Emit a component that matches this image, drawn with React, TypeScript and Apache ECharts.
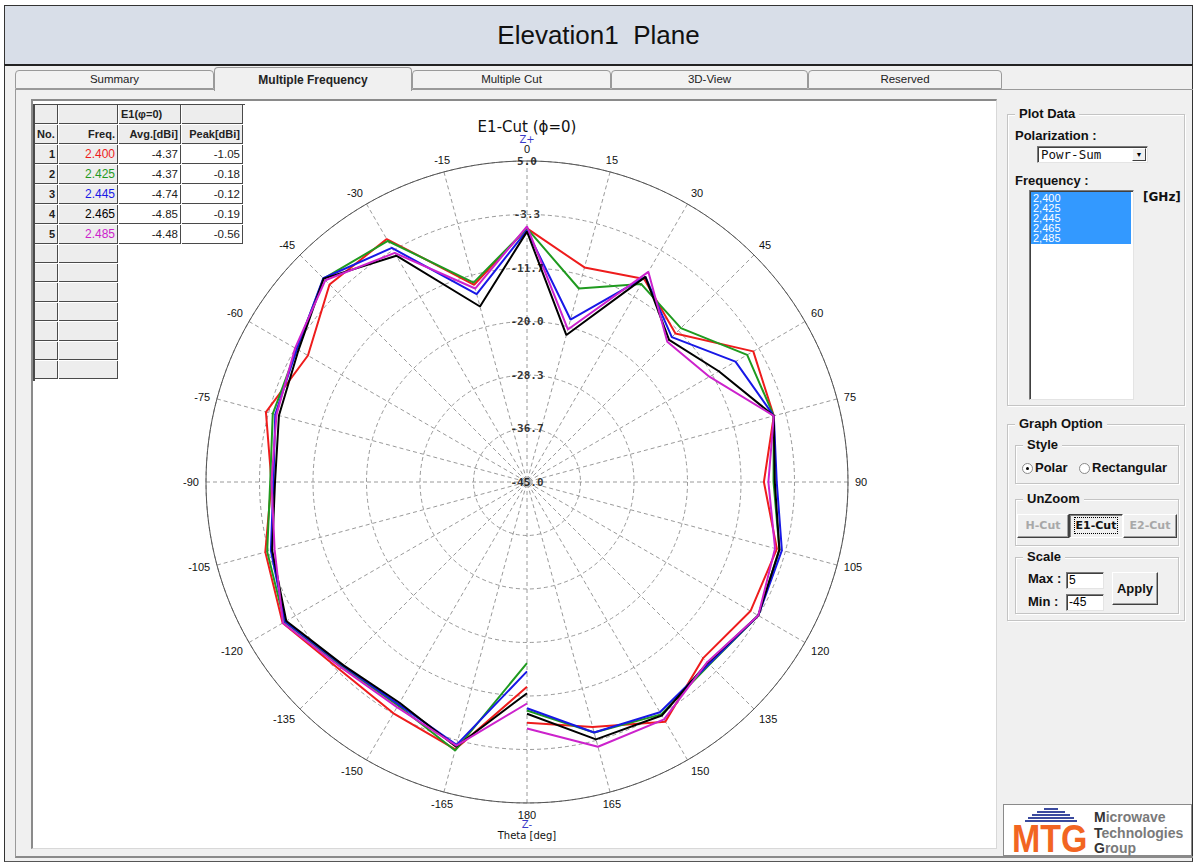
import React, { useEffect, useRef } from 'react';
import * as echarts from 'echarts';

// ---- table / list data ----
const frequencies = ['2.400', '2.425', '2.445', '2.465', '2.485'];
const listFrequencies = ['2,400', '2,425', '2,445', '2,465', '2,485'];
const avgGain = ['-4.37', '-4.37', '-4.74', '-4.85', '-4.48'];
const peakGain = ['-1.05', '-0.18', '-0.12', '-0.19', '-0.56'];
const seriesColors = ['#ee1c1c', '#1f9a1f', '#1818e6', '#000000', '#cc22cc'];
const tabNames = ['Summary', 'Multiple Frequency', 'Multiple Cut', '3D-View', 'Reserved'];

// ---- E1 cut (phi = 0) gain in dBi versus theta ----
const thetaDeg = [
  -180, -165, -150, -135, -120, -105, -90, -75, -60, -45, -30, -15, 0,
  15, 30, 45, 60, 75, 90, 105, 120, 135, 150, 165, 180,
];
const gain2400 = [-13.1, -1.9, -3.4, -3.7, -1.05, -2.8, -5.2, -2.9, -5.6, -1.5, -1.3, -13.2, -5.5, -10.4, -8.5, -12.3, -4.3, -5.2, -8.1, -4.7, -4.8, -6.2, -1.9, -5.5, -7.5];
const gain2425 = [-16.8, -1.7, -4.8, -4.3, -1.4, -3.1, -5.0, -4.0, -3.6, -0.18, -1.65, -12.85, -5.5, -13.8, -9.4, -11.1, -5.4, -5.2, -6.6, -4.3, -3.4, -4.8, -3.2, -4.6, -9.4];
const gain2445 = [-15.5, -2.6, -5.0, -4.5, -1.5, -3.7, -5.5, -4.4, -3.6, -0.12, -2.9, -14.7, -5.8, -18.8, -8.1, -13.1, -7.5, -5.2, -6.1, -3.9, -3.4, -4.9, -3.6, -4.6, -9.75];
const gain2465 = [-12.1, -2.3, -5.3, -4.6, -1.7, -3.9, -5.75, -5.0, -3.9, -0.19, -4.3, -16.7, -6.0, -21.3, -8.1, -13.7, -10.5, -5.2, -6.4, -4.3, -3.4, -5.2, -3.0, -3.5, -8.9];
const gain2485 = [-10.5, -2.5, -4.5, -4.1, -1.1, -4.3, -5.2, -4.6, -3.3, -0.56, -3.8, -13.8, -5.2, -20.4, -7.2, -14.1, -12.2, -5.2, -7.4, -5.0, -3.4, -5.3, -2.3, -2.3, -6.6];
const gainSeries = [gain2400, gain2425, gain2445, gain2465, gain2485];

// radial scale (dBi), centre = min, rim = max
const radiusMin = -45;
const radiusMax = 5;
const ringCount = 6;
const radialTickLabels = ['-45.0', '-36.7', '-28.3', '-20.0', '-11.7', '-3.3', '5.0'];

const ringStep = (radiusMax - radiusMin) / ringCount;
const dashed = { color: '#9a9a9a', width: 1, type: [4, 3] as number[] };

function buildOption() {
  return {
    animation: false,
    graphic: [
      {
        type: 'text',
        x: 494,
        y: 26,
        style: {
          text: 'E1-Cut (\u03d5=0)',
          align: 'center',
          verticalAlign: 'middle',
          fontFamily: 'DejaVu Sans',
          fontSize: 15,
          fill: '#111',
        },
      },
    ],
    polar: { center: [494, 381], radius: [0, 321] },
    angleAxis: {
      type: 'value',
      min: -180,
      max: 180,
      interval: 15,
      startAngle: 270,
      clockwise: true,
      axisLine: { show: true, lineStyle: { color: '#555', width: 1 } },
      axisTick: { show: false },
      splitLine: { show: true, lineStyle: dashed },
      axisLabel: {
        margin: 7,
        fontFamily: 'Liberation Sans',
        fontSize: 11,
        color: '#111',
        lineHeight: 10,
        formatter: (v: number) => {
          if (v === 0) return '{z|Z+}\n{a|0}';
          if (v === -180) return '{a|180}\n{z|Z-}\n{t|Theta [deg]}';
          if (v === 180) return '';
          return `{a|${v}}`;
        },
        rich: {
          a: { color: '#111', fontSize: 11, lineHeight: 10, fontFamily: 'Liberation Sans' },
          z: { color: '#3a3ac8', fontSize: 10, lineHeight: 9, fontFamily: 'DejaVu Sans' },
          t: { color: '#111', fontSize: 10, lineHeight: 12, fontFamily: 'DejaVu Sans' },
        },
      },
    },
    radiusAxis: {
      type: 'value',
      min: 0,
      max: radiusMax - radiusMin,
      interval: ringStep,
      axisLine: { show: false },
      axisTick: { show: false },
      axisLabel: { show: false },
      splitLine: { show: true, lineStyle: dashed },
    },
    series: [
      ...gainSeries.map((vals, k) => ({
        type: 'line',
        name: frequencies[k],
        coordinateSystem: 'polar',
        data: thetaDeg.map((t, i) => [vals[i] - radiusMin, t]),
        symbol: 'none',
        z: 3,
        lineStyle: { color: seriesColors[k], width: 2 },
        itemStyle: { color: seriesColors[k] },
      })),
      {
        type: 'scatter',
        coordinateSystem: 'polar',
        silent: true,
        z: 5,
        symbolSize: 1,
        itemStyle: { color: 'rgba(0,0,0,0)' },
        data: radialTickLabels.map((_, i) => [i * ringStep, 0]),
        label: {
          show: true,
          position: 'inside',
          formatter: (p: any) => radialTickLabels[p.dataIndex],
          fontFamily: 'DejaVu Sans Mono',
          fontWeight: 'bold',
          fontSize: 11,
          lineHeight: 11,
          color: '#000',
        },
      },
    ],
  };
}

// ---- table layout ----
const colX = [35, 59, 119, 182, 244];
const rowY = [105, 125, 145, 165, 185, 205, 225, 245, 264, 283, 303, 322, 342, 361, 380];
const GRAY = '#ededed';
const PANEL = '#f0f0f0';

function Cell(props: { c: number; r: number; text?: string; bg: string; align?: 'left' | 'right'; bold?: boolean; color?: string; size?: number }) {
  const { c, r, text, bg, align = 'right', bold, color = '#222', size = 11 } = props;
  return (
    <div
      style={{
        position: 'absolute',
        left: colX[c],
        top: rowY[r],
        width: colX[c + 1] - colX[c] - 1,
        height: rowY[r + 1] - rowY[r] - 1,
        background: bg,
        borderRight: '1px solid #4a4a4a',
        borderBottom: '1px solid #4a4a4a',
        fontFamily: 'Liberation Sans, Arial, sans-serif',
        fontSize: size,
        fontWeight: bold ? 'bold' : 'normal',
        color,
        textAlign: align,
        lineHeight: `${rowY[r + 1] - rowY[r] - 1}px`,
        padding: '0 2px',
        boxSizing: 'border-box',
        whiteSpace: 'nowrap',
        overflow: 'hidden',
      }}
    >
      {text}
    </div>
  );
}

function GainTable() {
  const cells: React.ReactNode[] = [];
  // first header row
  cells.push(<Cell key="h0" c={0} r={0} bg={GRAY} />);
  cells.push(<Cell key="h1" c={1} r={0} bg={GRAY} />);
  cells.push(<Cell key="h2" c={2} r={0} bg={GRAY} text={'E1(\u03c6=0)'} align="left" bold />);
  cells.push(<Cell key="h3" c={3} r={0} bg={GRAY} />);
  // second header row
  cells.push(<Cell key="n0" c={0} r={1} bg={GRAY} text="No." align="left" bold />);
  cells.push(<Cell key="n1" c={1} r={1} bg={GRAY} text="Freq." bold />);
  cells.push(<Cell key="n2" c={2} r={1} bg={GRAY} text="Avg.[dBi]" bold />);
  cells.push(<Cell key="n3" c={3} r={1} bg={GRAY} text="Peak[dBi]" bold />);
  frequencies.forEach((f, i) => {
    const r = i + 2;
    cells.push(<Cell key={`a${i}`} c={0} r={r} bg={GRAY} text={String(i + 1)} bold />);
    cells.push(<Cell key={`b${i}`} c={1} r={r} bg={GRAY} text={f} color={seriesColors[i]} size={12} />);
    cells.push(<Cell key={`c${i}`} c={2} r={r} bg="#fff" text={avgGain[i]} size={11.5} />);
    cells.push(<Cell key={`d${i}`} c={3} r={r} bg="#fff" text={peakGain[i]} size={11.5} />);
  });
  for (let r = 7; r < rowY.length - 1; r++) {
    cells.push(<Cell key={`e${r}`} c={0} r={r} bg={GRAY} />);
    cells.push(<Cell key={`f${r}`} c={1} r={r} bg={GRAY} />);
  }
  return (
    <>
      <div style={{ position: 'absolute', left: 33, top: 104, width: 2, height: 277, background: '#4a4a4a' }} />
      <div style={{ position: 'absolute', left: 33, top: 104, width: 212, height: 1, background: '#4a4a4a' }} />
      {cells}
    </>
  );
}

const boldUi: React.CSSProperties = {
  position: 'absolute',
  fontFamily: 'Liberation Sans, Arial, sans-serif',
  fontWeight: 'bold',
  fontSize: 13,
  color: '#111',
  whiteSpace: 'nowrap',
  lineHeight: '16px',
};

function GroupBox(props: { x: number; y: number; w: number; h: number; label: string }) {
  const { x, y, w, h, label } = props;
  return (
    <div
      style={{
        position: 'absolute',
        left: x,
        top: y,
        width: w,
        height: h,
        border: '1px solid #c4c4c4',
        boxShadow: 'inset 1px 1px 0 #fff, 1px 1px 0 #fff',
        boxSizing: 'border-box',
      }}
    >
      <span style={{ ...boldUi, left: 7, top: -9, padding: '0 4px', background: PANEL }}>{label}</span>
    </div>
  );
}

const sunken: React.CSSProperties = {
  position: 'absolute',
  background: '#fff',
  borderTop: '1px solid #7a7a7a',
  borderLeft: '1px solid #7a7a7a',
  borderRight: '1px solid #e4e4e4',
  borderBottom: '1px solid #e4e4e4',
  boxShadow: 'inset 1px 1px 0 #404040',
  boxSizing: 'border-box',
};

function Button(props: { x: number; y: number; w: number; h: number; text: string; disabled?: boolean; pressed?: boolean }) {
  const { x, y, w, h, text, disabled, pressed } = props;
  return (
    <div
      style={{
        position: 'absolute',
        left: x,
        top: y,
        width: w,
        height: h,
        background: PANEL,
        boxSizing: 'border-box',
        borderTop: pressed ? '1px solid #404040' : '1px solid #fff',
        borderLeft: pressed ? '1px solid #404040' : '1px solid #fff',
        borderRight: pressed ? '1px solid #fff' : '1px solid #404040',
        borderBottom: pressed ? '1px solid #fff' : '1px solid #404040',
        boxShadow: pressed ? 'inset 1px 1px 0 #808080' : 'inset -1px -1px 0 #a0a0a0',
        fontFamily: 'DejaVu Sans, sans-serif',
        fontWeight: 'bold',
        fontSize: 11,
        color: disabled ? '#a8a8a8' : '#111',
        textAlign: 'center',
        lineHeight: `${h - 2}px`,
      }}
    >
      {pressed ? (
        <span style={{ border: '1px dotted #000', padding: '1px 1px' }}>{text}</span>
      ) : (
        text
      )}
    </div>
  );
}

function Radio(props: { x: number; y: number; checked?: boolean }) {
  const { x, y, checked } = props;
  return (
    <div
      style={{
        position: 'absolute',
        left: x,
        top: y,
        width: 11,
        height: 11,
        borderRadius: '50%',
        background: '#fff',
        border: '1px solid #8a8a8a',
        boxSizing: 'border-box',
      }}
    >
      {checked && (
        <div style={{ position: 'absolute', left: 3, top: 3, width: 3, height: 3, borderRadius: '50%', background: '#000' }} />
      )}
    </div>
  );
}

function Logo() {
  const dome = [
    { y: 4, w: 14 },
    { y: 7, w: 28 },
    { y: 10, w: 38 },
    { y: 13, w: 46 },
    { y: 16, w: 52 },
  ];
  return (
    <svg style={{ position: 'absolute', left: 1003, top: 804 }} width={190} height={60}>
      <rect x={0.5} y={0.5} width={188} height={51} fill="#fff" stroke="#8a8a8a" />
      {dome.map((d, i) => (
        <rect key={i} x={48 - d.w / 2} y={d.y} width={d.w} height={2} fill="#3b4a9e" />
      ))}
      <text
        transform="translate(9,48) scale(0.87,1)"
        fontFamily="Liberation Sans, Arial"
        fontWeight="bold"
        fontSize={39}
        fill="#f26522"
      >
        MTG
      </text>
      <text x={91} y={18} fontFamily="Liberation Sans, Arial" fontWeight="bold" fontSize={14} fill="#7a7a7a">
        <tspan fill="#333">M</tspan>icrowave
      </text>
      <text x={91} y={34} fontFamily="Liberation Sans, Arial" fontWeight="bold" fontSize={14} fill="#7a7a7a">
        <tspan fill="#333">T</tspan>echnologies
      </text>
      <text x={91} y={49} fontFamily="Liberation Sans, Arial" fontWeight="bold" fontSize={14} fill="#7a7a7a">
        <tspan fill="#333">G</tspan>roup
      </text>
    </svg>
  );
}

const tabEdges = [15, 214, 412, 611, 808, 1002];

export default function App() {
  const chartRef = useRef<HTMLDivElement>(null);

  useEffect(() => {
    const el = chartRef.current;
    if (!el) return;
    const chart = echarts.init(el, null, { renderer: 'svg' });
    chart.setOption(buildOption() as any);
    return () => chart.dispose();
  }, []);

  return (
    <div
      style={{
        position: 'fixed',
        left: 0,
        top: 0,
        width: 1197,
        height: 868,
        background: '#fff',
        overflow: 'hidden',
        fontFamily: 'Liberation Sans, Arial, sans-serif',
      }}
    >
      {/* window header */}
      <div
        style={{
          position: 'absolute',
          left: 4,
          top: 5,
          width: 1189,
          height: 60,
          background: '#d8dee8',
          border: '1px solid #333',
          boxSizing: 'border-box',
          textAlign: 'center',
          lineHeight: '58px',
          fontSize: 26,
          color: '#111',
          whiteSpace: 'pre',
        }}
      >
        {'Elevation1  Plane'}
      </div>
      {/* dialog body */}
      <div
        style={{
          position: 'absolute',
          left: 4,
          top: 64,
          width: 1189,
          height: 798,
          background: PANEL,
          borderLeft: '1px solid #333',
          borderRight: '1px solid #333',
          borderTop: '2px solid #222',
          borderBottom: '1px solid #555',
          boxSizing: 'border-box',
        }}
      />
      {/* tab page frame */}
      <div
        style={{
          position: 'absolute',
          left: 15,
          top: 89,
          width: 1178,
          height: 769,
          borderTop: '1px solid #9a9a9a',
          borderLeft: '1px solid #9a9a9a',
          borderBottom: '2px solid #8a8a8a',
          boxSizing: 'border-box',
        }}
      />
      {tabNames.map((name, i) => {
        const selected = i === 1;
        return (
          <div
            key={name}
            style={{
              position: 'absolute',
              left: tabEdges[i],
              top: selected ? 67 : 70,
              width: tabEdges[i + 1] - tabEdges[i],
              height: selected ? 24 : 19,
              background: selected ? PANEL : '#f2f2f2',
              border: '1px solid #9a9a9a',
              borderBottom: selected ? 'none' : '1px solid #9a9a9a',
              borderRadius: '4px 4px 0 0',
              boxSizing: 'border-box',
              textAlign: 'center',
              lineHeight: selected ? '24px' : '17px',
              fontSize: selected ? 12 : 11.5,
              fontWeight: selected ? 'bold' : 'normal',
              color: '#222',
              zIndex: selected ? 2 : 1,
            }}
          >
            {name}
          </div>
        );
      })}

      {/* plot area */}
      <div
        style={{
          position: 'absolute',
          left: 31,
          top: 99,
          width: 966,
          height: 750,
          background: '#fff',
          borderTop: '2px solid #8a8a8a',
          borderLeft: '2px solid #8a8a8a',
          borderRight: '1px solid #d8d8d8',
          borderBottom: '1px solid #d8d8d8',
          boxSizing: 'border-box',
        }}
      />
      <div ref={chartRef} style={{ position: 'absolute', left: 33, top: 101, width: 962, height: 746 }} />
      <GainTable />

      {/* Plot Data group */}
      <GroupBox x={1007} y={114} w={178} h={292} label="Plot Data" />
      <div style={{ ...boldUi, left: 1015, top: 128 }}>Polarization :</div>
      <div style={{ ...sunken, left: 1037, top: 146, width: 111, height: 17 }}>
        <span
          style={{
            position: 'absolute',
            left: 3,
            top: 0,
            lineHeight: '15px',
            fontFamily: 'DejaVu Sans Mono, monospace',
            fontSize: 12.5,
            color: '#111',
          }}
        >
          Powr-Sum
        </span>
        <div
          style={{
            position: 'absolute',
            right: 1,
            top: 1,
            width: 14,
            height: 13,
            background: PANEL,
            borderRight: '1px solid #404040',
            borderBottom: '1px solid #404040',
            borderTop: '1px solid #fff',
            borderLeft: '1px solid #fff',
            boxSizing: 'border-box',
            fontSize: 7,
            lineHeight: '11px',
            textAlign: 'center',
            color: '#000',
          }}
        >
          {'\u25bc'}
        </div>
      </div>
      <div style={{ ...boldUi, left: 1015, top: 173 }}>Frequency :</div>
      <div style={{ ...sunken, left: 1029, top: 190, width: 105, height: 210 }}>
        <div style={{ position: 'absolute', left: 1, top: 1, width: 100, height: 52, background: '#3399ff' }} />
        {listFrequencies.map((f, i) => (
          <div
            key={f}
            style={{
              position: 'absolute',
              left: 3,
              top: 2 + i * 10,
              fontSize: 11,
              lineHeight: '10px',
              color: '#fff',
              fontFamily: 'Liberation Sans, Arial, sans-serif',
            }}
          >
            {f}
          </div>
        ))}
      </div>
      <div style={{ ...boldUi, left: 1143, top: 189, fontFamily: 'DejaVu Sans, sans-serif', fontSize: 12 }}>[GHz]</div>

      {/* Graph Option group */}
      <GroupBox x={1007} y={424} w={178} h={197} label="Graph Option" />
      <GroupBox x={1015} y={445} w={164} h={39} label="Style" />
      <Radio x={1022} y={463} checked />
      <div style={{ ...boldUi, left: 1035, top: 460 }}>Polar</div>
      <Radio x={1079} y={463} />
      <div style={{ ...boldUi, left: 1092, top: 460 }}>Rectangular</div>

      <GroupBox x={1015} y={499} w={164} h={47} label="UnZoom" />
      <Button x={1017} y={514} w={52} h={24} text="H-Cut" disabled />
      <Button x={1069} y={514} w={54} h={24} text="E1-Cut" pressed />
      <Button x={1123} y={514} w={54} h={24} text="E2-Cut" disabled />

      <GroupBox x={1015} y={557} w={164} h={57} label="Scale" />
      <div style={{ ...boldUi, left: 1028, top: 571 }}>Max :</div>
      <div style={{ ...sunken, left: 1066, top: 572, width: 38, height: 17, fontSize: 12, lineHeight: '14px', paddingLeft: 2 }}>5</div>
      <div style={{ ...boldUi, left: 1028, top: 594 }}>Min :</div>
      <div style={{ ...sunken, left: 1066, top: 594, width: 38, height: 17, fontSize: 12, lineHeight: '14px', paddingLeft: 2 }}>-45</div>
      <div
        style={{
          position: 'absolute',
          left: 1112,
          top: 572,
          width: 46,
          height: 33,
          background: PANEL,
          borderTop: '1px solid #fff',
          borderLeft: '1px solid #fff',
          borderRight: '1px solid #404040',
          borderBottom: '1px solid #404040',
          boxShadow: 'inset -1px -1px 0 #a0a0a0',
          boxSizing: 'border-box',
          fontFamily: 'Liberation Sans, Arial, sans-serif',
          fontWeight: 'bold',
          fontSize: 13,
          textAlign: 'center',
          lineHeight: '31px',
          color: '#111',
        }}
      >
        Apply
      </div>

      <Logo />
    </div>
  );
}
